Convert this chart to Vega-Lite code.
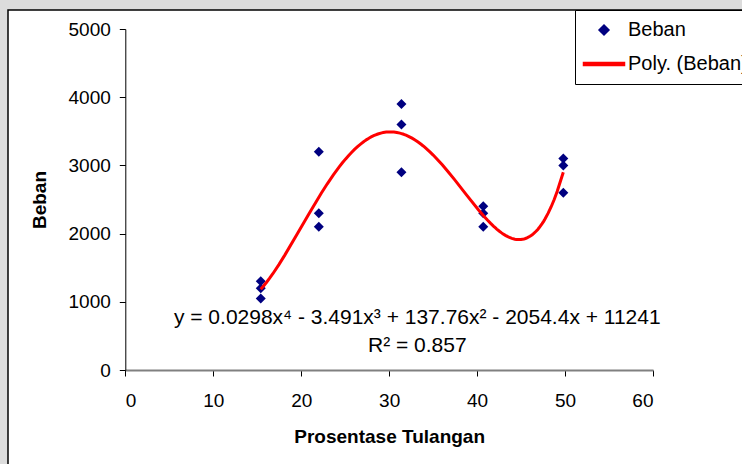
{
  "$schema": "https://vega.github.io/schema/vega-lite/v6.json",
  "width": 736,
  "height": 456,
  "autosize": {"type": "none"},
  "padding": {"left": 8, "top": 10, "right": -2, "bottom": -2},
  "background": "#dcdcdc",
  "config": {
    "font": "Liberation Sans",
    "view": {"fill": "white", "stroke": "black", "strokeWidth": 1.5},
    "axis": {
      "grid": false,
      "labelFont": "Liberation Sans",
      "labelFontSize": 19,
      "labelColor": "black",
      "titleFont": "Liberation Sans",
      "titleFontSize": 19,
      "titleFontWeight": "bold",
      "titleColor": "black",
      "tickSize": 6,
      "tickColor": "black",
      "domainColor": "black"
    }
  },
  "datasets": {
    "beban": [
      {"prosentase": 15.4, "beban": 1300},
      {"prosentase": 15.4, "beban": 1200},
      {"prosentase": 15.4, "beban": 1050},
      {"prosentase": 22.0, "beban": 3200},
      {"prosentase": 22.0, "beban": 2300},
      {"prosentase": 22.0, "beban": 2100},
      {"prosentase": 31.4, "beban": 3900},
      {"prosentase": 31.4, "beban": 3600},
      {"prosentase": 31.4, "beban": 2900},
      {"prosentase": 40.7, "beban": 2400},
      {"prosentase": 40.7, "beban": 2300},
      {"prosentase": 40.7, "beban": 2100},
      {"prosentase": 49.8, "beban": 3100},
      {"prosentase": 49.8, "beban": 3000},
      {"prosentase": 49.8, "beban": 2600}
    ],
    "notes": [
      {"label": "y = 0.0298x⁴ - 3.491x³ + 137.76x² - 2054.4x + 11241", "prosentase": 33.2, "beban": 762},
      {"label": "R² = 0.857", "prosentase": 33.2, "beban": 355}
    ]
  },
  "layer": [
    {
      "data": {"name": "beban"},
      "mark": {"type": "point", "filled": true, "size": 100, "opacity": 1},
      "encoding": {
        "x": {
          "field": "prosentase",
          "type": "quantitative",
          "title": "Prosentase Tulangan",
          "scale": {"domain": [0, 60], "range": [117.3, 645], "nice": false, "zero": false},
          "axis": {
            "values": [0, 10, 20, 30, 40, 50, 60],
            "format": "d",
            "offset": -96,
            "labelPadding": 15,
            "titlePadding": 17,
            "domainColor": "#808080",
            "domainWidth": 2
          }
        },
        "y": {
          "field": "beban",
          "type": "quantitative",
          "title": "Beban",
          "scale": {"domain": [0, 5000], "range": [360, 19], "nice": false},
          "axis": {
            "values": [0, 1000, 2000, 3000, 4000, 5000],
            "format": "d",
            "offset": -117.3,
            "labelPadding": 9,
            "titlePadding": 19
          }
        },
        "shape": {
          "datum": "Beban",
          "scale": {
            "domain": ["Beban", "Poly. (Beban)"],
            "range": ["diamond", "M-4.1,-0.3L4.1,-0.3L4.1,0.3L-4.1,0.3Z"]
          },
          "legend": {
            "title": null,
            "orient": "none",
            "legendX": 567,
            "legendY": 0,
            "strokeColor": "black",
            "fillColor": "white",
            "padding": 10,
            "symbolOffset": 9,
            "labelOffset": 14,
            "rowPadding": 14,
            "labelFont": "Liberation Sans",
            "labelFontSize": 20,
            "labelColor": "black",
            "symbolSize": 100,
            "symbolOpacity": 1
          }
        },
        "color": {
          "datum": "Beban",
          "scale": {"domain": ["Beban", "Poly. (Beban)"], "range": ["#000080", "#ff0000"]},
          "legend": {
            "title": null,
            "orient": "none",
            "legendX": 567,
            "legendY": 0,
            "strokeColor": "black",
            "fillColor": "white",
            "padding": 10,
            "symbolOffset": 9,
            "labelOffset": 14,
            "rowPadding": 14,
            "labelFont": "Liberation Sans",
            "labelFontSize": 20,
            "labelColor": "black",
            "symbolSize": 100,
            "symbolOpacity": 1
          }
        }
      }
    },
    {
      "data": {"name": "beban"},
      "transform": [
        {"regression": "beban", "on": "prosentase", "method": "poly", "order": 4, "extent": [15.4, 49.8]}
      ],
      "mark": {"type": "line", "strokeWidth": 3},
      "encoding": {
        "x": {"field": "prosentase", "type": "quantitative"},
        "y": {"field": "beban", "type": "quantitative"},
        "color": {"datum": "Poly. (Beban)"}
      }
    },
    {
      "data": {"name": "notes"},
      "mark": {"type": "text", "font": "Liberation Sans", "fontSize": 21, "color": "black", "align": "center", "baseline": "middle"},
      "encoding": {
        "x": {"field": "prosentase", "type": "quantitative"},
        "y": {"field": "beban", "type": "quantitative"},
        "text": {"field": "label"}
      }
    }
  ]
}
